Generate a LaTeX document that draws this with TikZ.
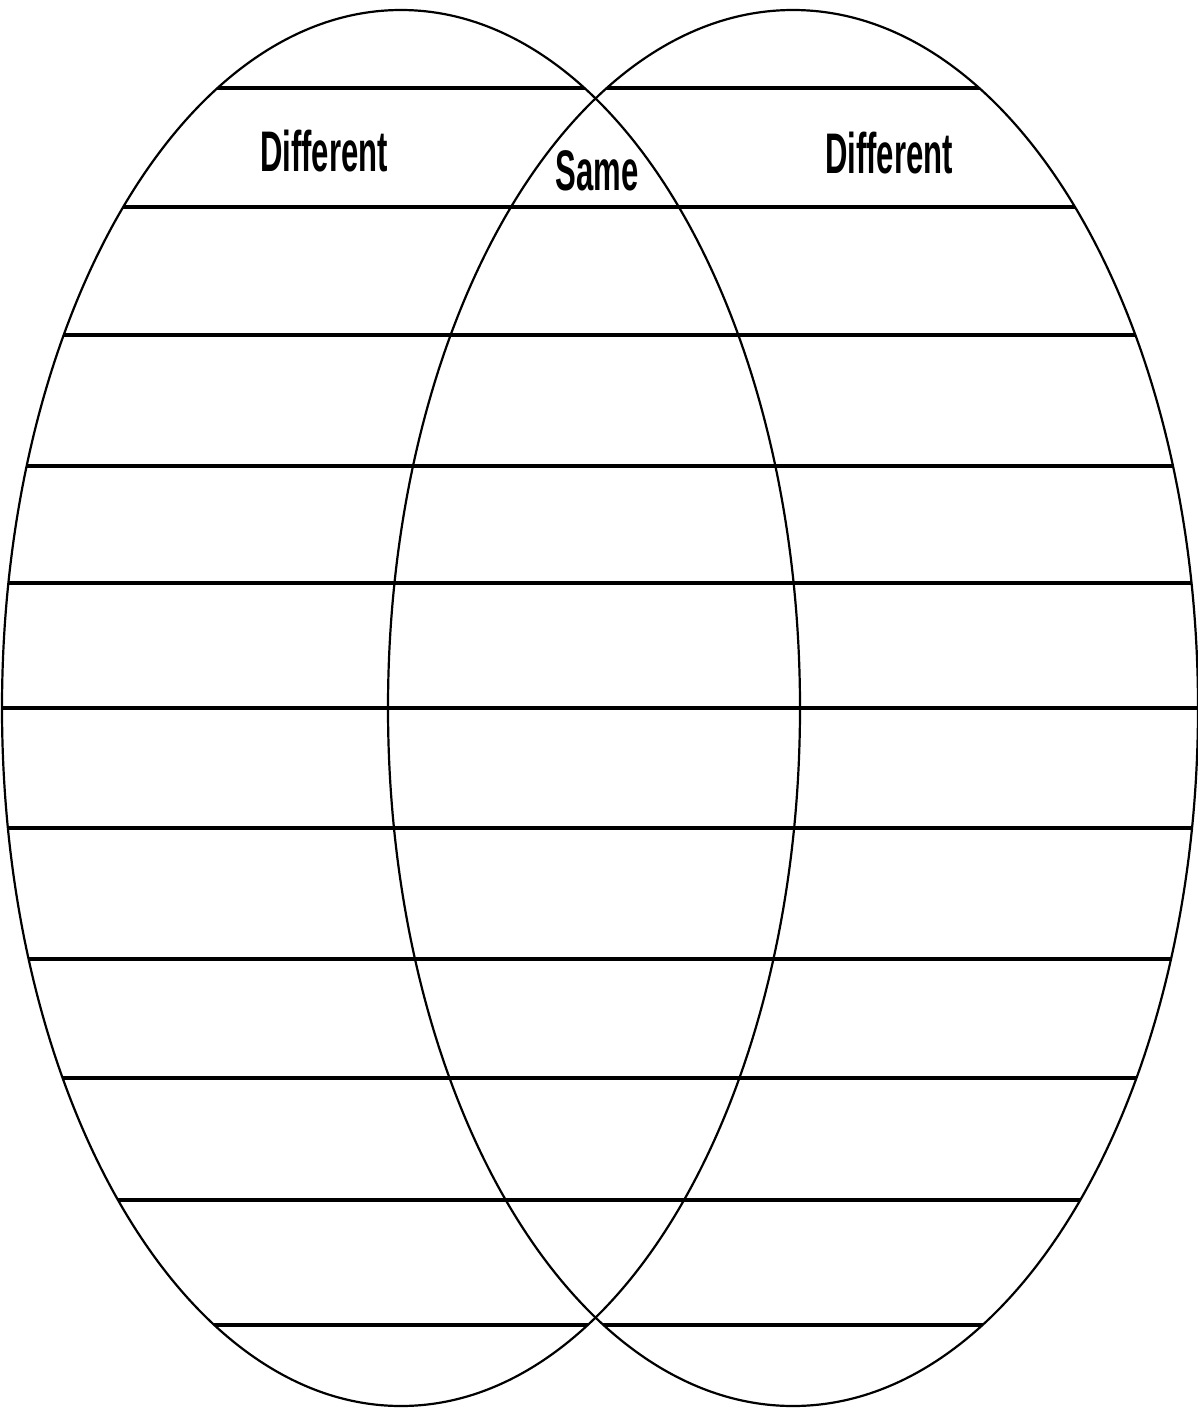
\documentclass[tikz,border=0pt]{standalone}
\usepackage{fontspec}
\setmainfont{Liberation Sans}
\begin{document}
\begin{tikzpicture}[x=0.01cm,y=-0.01cm,
  rim/.style={line width=0.022cm, black},
  rule/.style={line width=0.032cm, black},
  lbl/.style={font=\bfseries\fontsize{15.5pt}{18pt}\selectfont, xscale=0.57, yscale=1.05, inner sep=0pt}]
\useasboundingbox (0,0) rectangle (1198,1409);
\fill[white] (0,0) rectangle (1198,1409);
% horizontal rules, clipped to each ellipse (union)
\foreach \yy in {88,207,335,466,583,708,828,959,1078,1200,1325}{
  \begin{scope}
    \clip (401,708) ellipse [x radius=399, y radius=698];
    \draw[rule] (0,\yy) -- (1198,\yy);
  \end{scope}
  \begin{scope}
    \clip (793,708) ellipse [x radius=405, y radius=698];
    \draw[rule] (0,\yy) -- (1198,\yy);
  \end{scope}
}
\draw[rim] (401,708) ellipse [x radius=399, y radius=698];
\draw[rim] (793,708) ellipse [x radius=405, y radius=698];
\node[lbl] (dl) at (324,151) {Different};
\node[lbl] (sm) at (597,171) {Same};
\node[lbl] (dr) at (889,153) {Different};
\end{tikzpicture}
\end{document}
